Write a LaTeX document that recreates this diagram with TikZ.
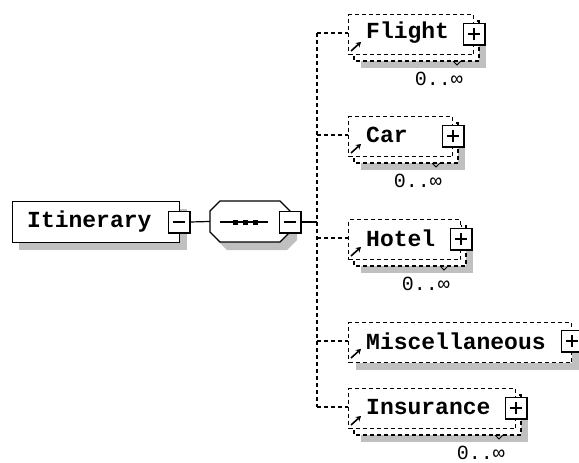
\documentclass[tikz,border=0pt]{standalone}
\usepackage{fontspec}
\newfontfamily\lblfont{Liberation Mono}
\usetikzlibrary{arrows.meta}
\definecolor{shadowgray}{RGB}{192,192,192}
\tikzset{
  dsh/.style={dash pattern=on 4pt off 3pt, line width=1.3pt},
  front/.style={draw, dsh, fill=white, inner sep=0pt, minimum height=40pt},
  pm/.style={draw, fill=white, line width=1.2pt, inner sep=0pt, minimum size=21pt},
  lbl/.style={inner sep=0pt, font=\lblfont\bfseries\fontsize{23}{23}\selectfont},
  occ/.style={inner sep=0pt, font=\lblfont\fontsize{20}{20}\selectfont},
  refarrow/.style={-{Stealth[length=5pt,width=6pt]}, line width=1.6pt},
  solidline/.style={line width=1.2pt}
}
\newcommand\pmdecor[2]{%
  \draw[line width=2.5pt] (#1.north east) -- (#1.south east) -- (#1.south west);
  \draw[line width=1.2pt] (#1.center) +(-6,0) -- +(6,0);
  \ifnum#2=1 \draw[line width=1.2pt] (#1.center) +(0,-6) -- +(0,6);\fi}
% #1 name, #2 top, #3 right edge, #4 text
\newcommand\stackelem[4]{%
  \fill[shadowgray] (361,#2+14) rectangle (#3+13,#2+54);
  \draw[dsh, fill=white] (354,#2+7) rectangle (#3+6,#2+47);
  \draw[line width=1pt] (#3-20,#2+47) -- (#3-16,#2+51) -- (#3-12,#2+47);
  \node[front, minimum width={#3-348}, anchor=north west] (#1) at (348,#2) {};
  \node[pm] (#1P) at (#3+1,#2+20) {};
  \pmdecor{#1P}{1}
  \node[lbl, anchor=west] (#1T) at (366,#2+19) {#4};
  \draw[refarrow] (351,#2+37) -- (361,#2+28);
  \node[occ, anchor=east] (#1O) at (#3-10,#2+65) {0..∞};
}
\begin{document}
\begin{tikzpicture}[x=1pt,y=-1pt]
\useasboundingbox (0,0) rectangle (579,463);
% root element
\fill[shadowgray] (19,209) rectangle (187,250);
\node[draw, fill=white, line width=1.2pt, inner sep=0pt, minimum width=167pt, minimum height=41pt, anchor=north west] (itin) at (12,201) {};
\node[lbl, anchor=west] (itinT) at (27,222) {Itinerary};
\node[pm] (itinP) at (179,222) {};
\pmdecor{itinP}{0}
% sequence compositor
\fill[shadowgray] (227,209) -- (287,209) -- (297,219) -- (297,240) -- (287,250) -- (227,250) -- (217,240) -- (217,219) -- cycle;
\node[inner sep=0pt, minimum width=80pt, minimum height=41pt] (seq) at (250,221.5) {};
\draw[fill=white, line width=1.2pt] (220,201) -- (280,201) -- (290,211) -- (290,232) -- (280,242) -- (220,242) -- (210,232) -- (210,211) -- cycle;
\draw[line width=1.2pt] (220,222) -- (268,222);
\foreach \dx in {235,245,255} \fill (\dx-2.5,219.5) rectangle (\dx+2.5,224.5);
\node[pm] (seqP) at (290,222) {};
\pmdecor{seqP}{0}
\draw[solidline] (itinP.east) -- (seq.west);
% junction
\coordinate (jS) at (317,222);
\coordinate (jF) at (317,33);
\coordinate (jC) at (317,135);
\coordinate (jH) at (317,238);
\coordinate (jM) at (317,341);
\coordinate (jI) at (317,407);
\draw[solidline] (seqP.east) -- (jS);
\draw[dsh] (jF) -- (jI);
% children
\stackelem{flight}{14}{473}{Flight}
\stackelem{car}{116}{452}{Car}
\stackelem{hotel}{219}{460}{Hotel}
\stackelem{ins}{388}{515}{Insurance}
% Miscellaneous (single)
\fill[shadowgray] (356,330) rectangle (580,370);
\node[front, minimum width=223pt, anchor=north west] (misc) at (348,322) {};
\node[pm] (miscP) at (572,341) {};
\pmdecor{miscP}{1}
\node[lbl, anchor=west] (miscT) at (366,341) {Miscellaneous};
\draw[refarrow] (351,358) -- (361,349);
% branches
\draw[dsh] (jF) -- (jF -| flight.west);
\draw[dsh] (jC) -- (jC -| car.west);
\draw[dsh] (jH) -- (jH -| hotel.west);
\draw[dsh] (jM) -- (jM -| misc.west);
\draw[dsh] (jI) -- (jI -| ins.west);
\end{tikzpicture}
\end{document}
